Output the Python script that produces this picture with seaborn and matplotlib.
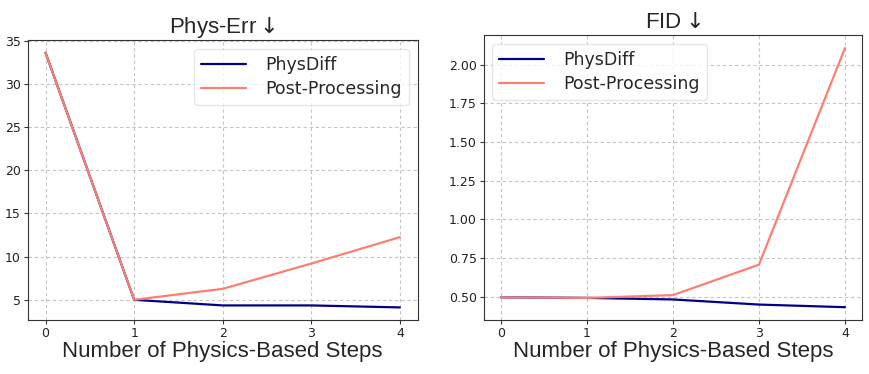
import matplotlib
matplotlib.use("Agg")
import matplotlib.pyplot as plt
import seaborn as sns
import pandas as pd

steps = [0, 1, 2, 3, 4]
phys_err_physdiff = [33.6, 5.0, 4.35, 4.35, 4.12]
phys_err_post = [33.6, 5.0, 6.27, 9.2, 12.25]
fid_physdiff = [0.497, 0.493, 0.483, 0.45, 0.433]
fid_post = [0.497, 0.493, 0.511, 0.708, 2.108]
methods = ["PhysDiff", "Post-Processing"]
colors = {"PhysDiff": "#00008b", "Post-Processing": "#fa8072"}

sns.set_style("whitegrid", {"axes.edgecolor": "#333333", "axes.linewidth": 1.0,
                            "xtick.bottom": True, "ytick.left": True})
plt.rcParams["font.family"] = ["DejaVu Sans"]
plt.rcParams["mathtext.fontset"] = "dejavusans"

def make_df(a, b):
    return pd.DataFrame({
        "step": steps + steps,
        "value": a + b,
        "method": [methods[0]] * len(a) + [methods[1]] * len(b),
    })

fig = plt.figure(figsize=(8.7, 3.74), dpi=100)
ax1 = fig.add_axes([0.032, 0.144, 0.448, 0.749])
ax2 = fig.add_axes([0.556, 0.144, 0.435, 0.762])

sns.lineplot(data=make_df(phys_err_physdiff, phys_err_post), x="step", y="value",
             hue="method", palette=colors, linewidth=1.6, ax=ax1)
sns.lineplot(data=make_df(fid_physdiff, fid_post), x="step", y="value",
             hue="method", palette=colors, linewidth=1.6, ax=ax2)

lab_font = ["Liberation Sans", "DejaVu Sans"]
for ax, title, loc in [(ax1, r"Phys-Err$\downarrow$", "upper right"), (ax2, r"FID$\downarrow$", "upper left")]:
    ax.set_title(title, fontsize=16, family=lab_font, pad=5)
    ax.set_xlabel("Number of Physics-Based Steps", fontsize=16, family=lab_font, labelpad=1)
    ax.set_ylabel("")
    ax.set_xticks(steps)
    ax.tick_params(labelsize=9, length=3, pad=2, color="#333333", labelcolor="#222222")
    ax.grid(True, linestyle=(0, (3, 2.5)), color="#c4c4c4", linewidth=0.8)
    leg = ax.legend(loc=loc, fontsize=12.5, frameon=True, handlelength=2.6,
                    handletextpad=1.1, borderpad=0.4, labelspacing=0.35)
    leg.get_frame().set_edgecolor("#e0e0e0")

ax2.set_yticks([0.5, 0.75, 1.0, 1.25, 1.5, 1.75, 2.0])
ax2.set_yticklabels(["0.50", "0.75", "1.00", "1.25", "1.50", "1.75", "2.00"])

fig.savefig("out.png", dpi=100)
